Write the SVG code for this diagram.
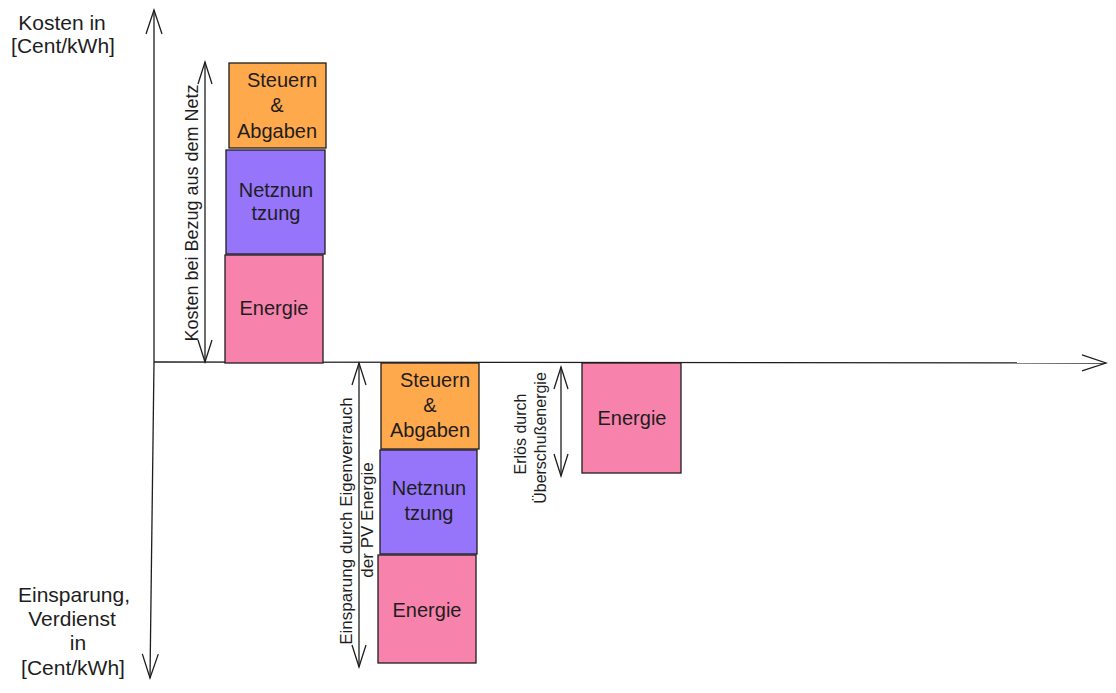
<svg xmlns="http://www.w3.org/2000/svg" width="1116" height="693" viewBox="0 0 1116 693">
<style>
  .t{font-family:"Liberation Sans","Noto Sans",sans-serif;fill:#1e1e1e;text-anchor:middle}
  .lbl{font-size:20px}
  .ax{font-size:21px}
  .r1{font-size:18px}
  .r2{font-size:17px}
  .sm{font-size:16px}
  .box{stroke:#1e1e1e;stroke-width:1.3}
  .org{fill:#ffa94d}
  .pur{fill:#9775fa}
  .pnk{fill:#f783ac}
  .ln{stroke:#1e1e1e;stroke-width:1.3;fill:none}
</style>
<defs>
  <marker id="ah" viewBox="-26 -10 28 20" refX="0" refY="0" markerWidth="28" markerHeight="20" markerUnits="userSpaceOnUse" orient="auto-start-reverse">
    <path d="M -24 -8 L 0 0 L -24 8" fill="none" stroke="#1e1e1e" stroke-width="1.3"/>
  </marker>
  <marker id="ahs" viewBox="-26 -10 28 20" refX="0" refY="0" markerWidth="28" markerHeight="20" markerUnits="userSpaceOnUse" orient="auto-start-reverse">
    <path d="M -22 -7 L 0 0 L -22 7" fill="none" stroke="#1e1e1e" stroke-width="1.3"/>
  </marker>
</defs>
<rect width="1116" height="693" fill="#ffffff"/>

<g id="connectors">
  <line class="ln" x1="154" y1="362" x2="154" y2="10" marker-end="url(#ah)"/>
  <line class="ln" x1="154" y1="362" x2="150" y2="678" marker-end="url(#ah)"/>
  <line class="ln" x1="154" y1="362" x2="1106" y2="363" marker-end="url(#ah)"/>
  <line class="ln" x1="205" y1="62" x2="205" y2="362" marker-start="url(#ahs)" marker-end="url(#ahs)"/>
  <line class="ln" x1="359" y1="363" x2="359" y2="667" marker-start="url(#ahs)" marker-end="url(#ahs)"/>
  <line class="ln" x1="561" y1="367" x2="561" y2="476" marker-start="url(#ahs)" marker-end="url(#ahs)"/>
</g>

<g id="axis-labels">
  <text class="t ax" x="62" y="30">Kosten in</text>
  <text class="t ax" x="63" y="53">[Cent/kWh]</text>
  <text class="t ax" x="74" y="602">Einsparung,</text>
  <text class="t ax" x="72" y="626">Verdienst</text>
  <text class="t ax" x="78" y="650">in</text>
  <text class="t ax" x="73" y="675">[Cent/kWh]</text>
</g>

<g id="top-steuern">
  <rect class="box org" x="229" y="63" width="97" height="85"/>
  <text class="t lbl" x="282" y="87">Steuern</text>
  <text class="t lbl" x="277" y="112">&amp;</text>
  <text class="t lbl" x="277" y="138">Abgaben</text>
</g>
<g id="top-netz">
  <rect class="box pur" x="226" y="150" width="99" height="104"/>
  <text class="t lbl" x="276" y="197">Netznun</text>
  <text class="t lbl" x="276" y="220">tzung</text>
</g>
<g id="top-energie">
  <rect class="box pnk" x="225" y="255" width="98" height="108"/>
  <text class="t lbl" x="274" y="315">Energie</text>
</g>

<g id="bot-steuern">
  <rect class="box org" x="381" y="363" width="98" height="86"/>
  <text class="t lbl" x="435" y="387">Steuern</text>
  <text class="t lbl" x="430" y="412">&amp;</text>
  <text class="t lbl" x="430" y="437">Abgaben</text>
</g>
<g id="bot-netz">
  <rect class="box pur" x="380" y="450" width="97" height="104"/>
  <text class="t lbl" x="429" y="495">Netznun</text>
  <text class="t lbl" x="429" y="520">tzung</text>
</g>
<g id="bot-energie">
  <rect class="box pnk" x="378" y="555" width="98" height="108"/>
  <text class="t lbl" x="427" y="617">Energie</text>
</g>
<g id="right-energie">
  <rect class="box pnk" x="582" y="363" width="99" height="110"/>
  <text class="t lbl" x="632" y="425">Energie</text>
</g>

<g id="arrow-labels">
  <text class="t r1" x="198" y="213" transform="rotate(-90 198 213)">Kosten bei Bezug aus dem Netz</text>
  <text class="t r2" x="352" y="521" transform="rotate(-90 352 521)">Einsparung durch Eigenverrauch</text>
  <text class="t r2" x="373" y="520" transform="rotate(-90 373 520)">der PV Energie</text>
  <text class="t sm" x="526" y="434" transform="rotate(-90 526 434)">Erlös durch</text>
  <text class="t sm" x="546" y="438" transform="rotate(-90 546 438)">Überschußenergie</text>
</g>
</svg>
